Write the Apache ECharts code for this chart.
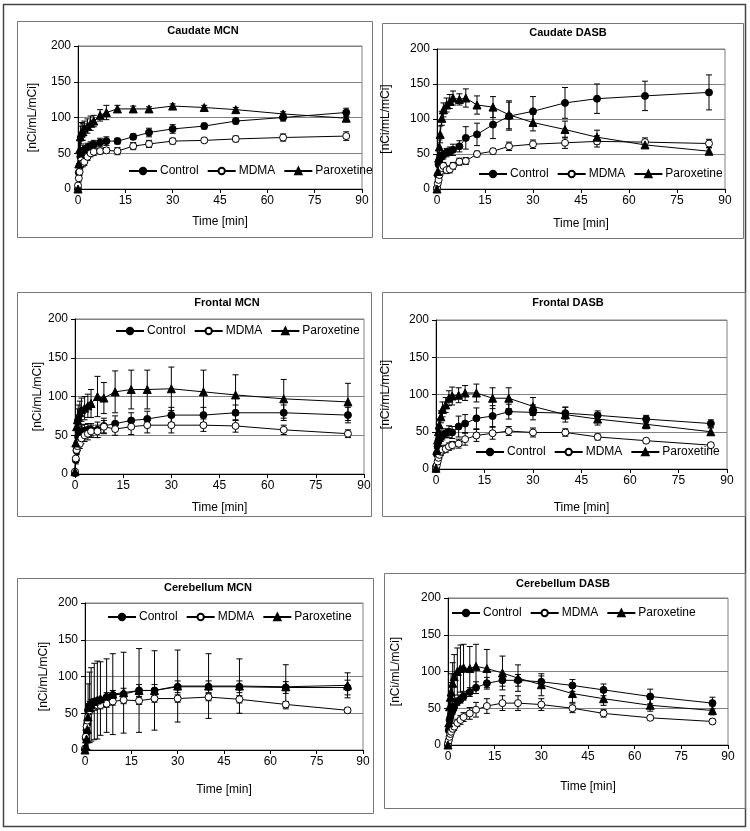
<!DOCTYPE html>
<html><head><meta charset="utf-8">
<script src="https://cdn.jsdelivr.net/npm/echarts@6/dist/echarts.min.js"></script>
<style>html,body{margin:0;padding:0;background:#fff}#c{width:750px;height:831px}</style>
</head><body><div id="c"></div>
<script>
// ---------- data ----------
const times = [0, 0.25, 0.5, 0.75, 1, 1.5, 2, 3, 4, 5, 7, 9, 12.5, 17.5, 22.5, 30, 40, 50, 65, 85];
const xTickInterval = 15;
const yTickInterval = 50;
const seriesNames = ['Control', 'MDMA', 'Paroxetine'];
const panelTitles = ['Caudate MCN', 'Caudate DASB', 'Frontal MCN', 'Frontal DASB', 'Cerebellum MCN', 'Cerebellum DASB'];
const xAxisName = 'Time [min]';
const yAxisName = '[nCi/mL/mCi]';

// Caudate MCN
const caudMcnControl    = [0, 23, 33, 45, 49, 52, 55, 58, 60, 62, 65, 67, 67, 73, 79, 84, 88, 95, 100, 107];
const caudMcnControlErr = [0, 8, 8, 8, 8, 6, 6, 6, 6, 6, 6, 6, 4, 4, 6, 6, 4, 4, 5, 6];
const caudMcnMdma       = [5, 15, 24, 33, 40, 36, 38, 45, 50, 52, 53, 54, 53, 60, 63, 67, 68, 70, 72, 74];
const caudMcnMdmaErr    = [3, 5, 5, 5, 5, 5, 5, 5, 5, 5, 4, 4, 5, 5, 5, 4, 3, 4, 5, 6];
const caudMcnParox      = [0, 35, 55, 73, 78, 80, 85, 88, 92, 95, 103, 107, 112, 112, 112, 116, 114, 111, 105, 99];
const caudMcnParoxErr   = [0, 10, 12, 15, 15, 12, 10, 10, 10, 8, 8, 10, 5, 4, 3, 3, 3, 3, 3, 3];

// Caudate DASB
const caudDasbControl    = [1, 20, 35, 42, 47, 47, 49, 52, 54, 56, 61, 73, 78, 92, 104, 111, 123, 129, 133, 138];
const caudDasbControlErr = [0, 5, 5, 5, 5, 5, 6, 6, 6, 8, 8, 16, 16, 20, 20, 21, 22, 21, 21, 25];
const caudDasbMdma       = [1, 8, 13, 20, 25, 30, 33, 27, 28, 33, 39, 40, 50, 54, 61, 64, 66, 68, 67, 65];
const caudDasbMdmaErr    = [0, 4, 4, 4, 5, 5, 5, 5, 5, 5, 5, 5, 4, 4, 6, 6, 8, 8, 6, 6];
const caudDasbParox      = [0, 25, 44, 60, 78, 101, 113, 120, 125, 130, 128, 130, 120, 117, 106, 95, 85, 74, 63, 54];
const caudDasbParoxErr   = [0, 5, 8, 10, 12, 10, 10, 10, 10, 10, 8, 13, 13, 15, 20, 12, 12, 10, 5, 5];

// Frontal MCN
const frontMcnControl    = [1, 18, 30, 40, 48, 53, 55, 56, 57, 57, 57, 62, 65, 69, 71, 76, 76, 79, 79, 76];
const frontMcnControlErr = [0, 5, 5, 6, 6, 8, 8, 8, 8, 8, 10, 10, 10, 10, 10, 10, 10, 10, 10, 10];
const frontMcnMdma       = [3, 20, 31, 36, 40, 39, 46, 50, 52, 55, 55, 61, 58, 61, 63, 63, 63, 62, 57, 52];
const frontMcnMdmaErr    = [0, 5, 5, 5, 6, 6, 7, 8, 8, 8, 8, 8, 8, 10, 10, 10, 8, 8, 6, 5];
const frontMcnParox      = [3, 40, 61, 70, 74, 79, 83, 85, 88, 91, 100, 98, 106, 109, 109, 110, 106, 102, 97, 93];
const frontMcnParoxErr   = [0, 8, 12, 14, 15, 15, 15, 15, 15, 18, 26, 20, 27, 25, 25, 28, 28, 26, 25, 24];

// Frontal DASB
const frontDasbControl    = [3, 20, 30, 38, 41, 43, 45, 48, 50, 49, 57, 61, 68, 71, 77, 76, 75, 72, 67, 61];
const frontDasbControlErr = [0, 5, 5, 6, 6, 6, 6, 6, 8, 8, 14, 12, 14, 14, 10, 10, 8, 6, 5, 5];
const frontDasbMdma       = [0, 5, 10, 15, 19, 23, 26, 27, 30, 32, 34, 40, 45, 48, 51, 49, 49, 43, 38, 32];
const frontDasbMdmaErr    = [0, 3, 3, 4, 5, 5, 5, 5, 5, 5, 6, 8, 8, 8, 6, 6, 5, 4, 3, 3];
const frontDasbParox      = [1, 25, 39, 50, 59, 70, 80, 86, 95, 98, 99, 102, 102, 95, 95, 84, 73, 67, 60, 50];
const frontDasbParoxErr   = [0, 5, 6, 8, 8, 8, 10, 10, 10, 12, 10, 10, 12, 14, 14, 12, 10, 8, 6, 5];

// Cerebellum MCN
const cereMcnControl    = [1, 16, 27, 36, 54, 60, 63, 64, 65, 66, 72, 75, 76, 81, 81, 86, 86, 86, 85, 85];
const cereMcnControlErr = [0, 5, 5, 5, 6, 6, 6, 6, 6, 6, 6, 6, 8, 8, 8, 8, 8, 8, 8, 10];
const cereMcnMdma       = [2, 18, 32, 40, 45, 54, 57, 59, 61, 61, 63, 66, 68, 67, 70, 70, 72, 69, 62, 54];
const cereMcnMdmaErr    = [0, 5, 5, 5, 5, 5, 5, 5, 5, 5, 5, 5, 5, 5, 5, 5, 5, 5, 4, 3];
const cereMcnParox      = [0, 5, 15, 28, 45, 58, 62, 66, 68, 70, 74, 76, 78, 81, 81, 87, 87, 87, 86, 88];
const cereMcnParoxErr   = [0, 5, 15, 35, 45, 48, 50, 52, 53, 50, 50, 55, 55, 57, 54, 49, 44, 37, 30, 17];

// Cerebellum DASB
const cereDasbControl    = [0, 20, 34, 38, 43, 47, 52, 59, 62, 66, 72, 78, 84, 88, 88, 86, 81, 75, 66, 57];
const cereDasbControlErr = [0, 5, 5, 5, 5, 5, 5, 5, 5, 5, 6, 8, 8, 8, 8, 8, 8, 8, 10, 8];
const cereDasbMdma       = [2, 6, 11, 15, 18, 22, 25, 30, 34, 38, 43, 48, 53, 57, 57, 55, 50, 43, 37, 32];
const cereDasbMdmaErr    = [0, 3, 3, 3, 4, 4, 5, 5, 6, 6, 8, 10, 10, 10, 10, 8, 6, 5, 3, 3];
const cereDasbParox      = [0, 30, 52, 65, 72, 84, 93, 100, 104, 105, 104, 107, 104, 98, 91, 82, 70, 63, 54, 47];
const cereDasbParoxErr   = [0, 10, 15, 20, 25, 28, 30, 32, 32, 32, 30, 30, 26, 23, 18, 15, 12, 9, 8, 6];

// ---------- assembly ----------
const panelData = [
  [[caudMcnControl, caudMcnControlErr], [caudMcnMdma, caudMcnMdmaErr], [caudMcnParox, caudMcnParoxErr]],
  [[caudDasbControl, caudDasbControlErr], [caudDasbMdma, caudDasbMdmaErr], [caudDasbParox, caudDasbParoxErr]],
  [[frontMcnControl, frontMcnControlErr], [frontMcnMdma, frontMcnMdmaErr], [frontMcnParox, frontMcnParoxErr]],
  [[frontDasbControl, frontDasbControlErr], [frontDasbMdma, frontDasbMdmaErr], [frontDasbParox, frontDasbParoxErr]],
  [[cereMcnControl, cereMcnControlErr], [cereMcnMdma, cereMcnMdmaErr], [cereMcnParox, cereMcnParoxErr]],
  [[cereDasbControl, cereDasbControlErr], [cereDasbMdma, cereDasbMdmaErr], [cereDasbParox, cereDasbParoxErr]]
];

// layout (pixels)
const layouts = [
  {grid:[78,46,284,143],  box:[17,21,355,216],  title:[203,25], legend:[128,165], xGap:27, yGap:39},
  {grid:[437,49,288,140], box:[382,23,361,215], title:[568,27], legend:[478,168], xGap:29, yGap:45},
  {grid:[75,319,289,155], box:[17,292,354,224], title:[227,297], legend:[115,325], xGap:28, yGap:29},
  {grid:[436,320,291,149],box:[382,292,363,224], title:[568,297], legend:[475,446], xGap:33, yGap:44},
  {grid:[85,603,278,147], box:[17,578,356,235], title:[208,582], legend:[107,611], xGap:34, yGap:35},
  {grid:[448,598,280,147],box:[384,573,361,235], title:[563,578], legend:[451,607], xGap:36, yGap:46}
];

const FONT = '"Liberation Sans", Arial, sans-serif';
const symbols = ['circle', 'circle', 'triangle'];
const symSizes = [7, 7, 8];
const fills = ['#000', '#fff', '#000'];

function errRender(params, api) {
  const x = api.value(0), lo = Math.max(0, api.value(1)), hi = api.value(2);
  if (!(hi - lo > 0.01)) return null;
  const a = api.coord([x, hi]), b = api.coord([x, lo]);
  const cw = 3;
  const st = {stroke: '#000', lineWidth: 1};
  return {type: 'group', children: [
    {type: 'line', shape: {x1: a[0], y1: a[1], x2: b[0], y2: b[1]}, style: st},
    {type: 'line', shape: {x1: a[0] - cw, y1: a[1], x2: a[0] + cw, y2: a[1]}, style: st},
    {type: 'line', shape: {x1: b[0] - cw, y1: b[1], x2: b[0] + cw, y2: b[1]}, style: st}
  ]};
}

const grids = [], xAxes = [], yAxes = [], series = [], titles = [], legends = [], graphics = [];

graphics.push({type: 'rect', shape: {x: 3.5, y: 4.5, width: 742, height: 822}, style: {fill: 'none', stroke: '#444', lineWidth: 1.5}, z: 0});

layouts.forEach((L, i) => {
  grids.push({left: L.grid[0], top: L.grid[1], width: L.grid[2], height: L.grid[3], show: true, borderColor: '#808080', borderWidth: 1, backgroundColor: 'transparent'});
  xAxes.push({
    gridIndex: i, type: 'value', min: 0, max: 90, interval: xTickInterval,
    name: xAxisName, nameLocation: 'middle', nameGap: L.xGap,
    nameTextStyle: {fontFamily: FONT, fontSize: 12, color: '#000'},
    axisLine: {show: true, onZero: false, lineStyle: {color: '#000', width: 1}},
    axisTick: {show: true, inside: false, length: 4, lineStyle: {color: '#000'}},
    axisLabel: {fontFamily: FONT, fontSize: 12, color: '#000', margin: 6},
    splitLine: {show: false}
  });
  yAxes.push({
    gridIndex: i, type: 'value', min: 0, max: 200, interval: yTickInterval,
    name: yAxisName, nameLocation: 'middle', nameGap: L.yGap, nameRotate: 90,
    nameTextStyle: {fontFamily: FONT, fontSize: 12, color: '#000'},
    axisLine: {show: true, lineStyle: {color: '#000', width: 1}},
    axisTick: {show: true, inside: false, length: 4, lineStyle: {color: '#000'}},
    axisLabel: {fontFamily: FONT, fontSize: 12, color: '#000', margin: 7},
    splitLine: {show: true, lineStyle: {color: '#808080', width: 1}}
  });
  titles.push({
    text: panelTitles[i], left: L.title[0], top: L.title[1], textAlign: 'center', padding: 0,
    textStyle: {fontFamily: FONT, fontSize: 11, fontWeight: 'bold', color: '#000'}
  });
  legends.push({
    data: seriesNames, left: L.legend[0], top: L.legend[1], orient: 'horizontal', padding: 0,
    itemWidth: 28, itemHeight: 8, itemGap: 8, selectedMode: false,
    textStyle: {fontFamily: FONT, fontSize: 12, color: '#000', padding: [0, 0, 0, -2]}
  });
  graphics.push({type: 'rect', shape: {x: L.box[0] + 0.5, y: L.box[1] + 0.5, width: L.box[2], height: L.box[3]}, style: {fill: 'none', stroke: '#777', lineWidth: 1}, z: 0});

  panelData[i].forEach((pair, k) => {
    const vals = pair[0], errs = pair[1];
    series.push({
      type: 'custom', name: seriesNames[k] + ' err', xAxisIndex: i, yAxisIndex: i,
      renderItem: errRender, clip: true, z: 2, silent: true,
      data: times.map((t, j) => [t, vals[j] - errs[j], vals[j] + errs[j]])
    });
  });
  panelData[i].forEach((pair, k) => {
    const vals = pair[0];
    series.push({
      type: 'line', name: seriesNames[k], xAxisIndex: i, yAxisIndex: i,
      data: times.map((t, j) => [t, vals[j]]),
      symbol: symbols[k], symbolSize: symSizes[k], showSymbol: true, showAllSymbol: true,
      lineStyle: {color: '#000', width: 1},
      itemStyle: {color: fills[k], borderColor: '#000', borderWidth: 1},
      z: 3, animation: false, silent: true
    });
  });
});

const chart = echarts.init(document.getElementById('c'), null, {renderer: 'canvas'});
chart.setOption({
  backgroundColor: '#fff',
  animation: false,
  title: titles,
  legend: legends,
  grid: grids,
  xAxis: xAxes,
  yAxis: yAxes,
  series: series,
  graphic: graphics
});
</script>
</body></html>
